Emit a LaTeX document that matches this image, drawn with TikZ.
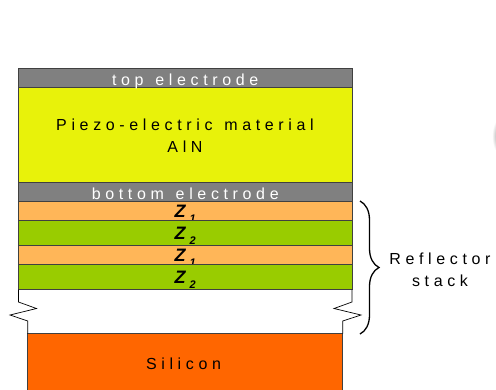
\documentclass[tikz,border=0pt]{standalone}
\usepackage{fontspec}
\setmainfont{Liberation Sans}
\newfontfamily\spaced[LetterSpace=29,WordSpace=1.3]{Liberation Sans}
\usetikzlibrary{positioning,decorations.pathreplacing}

\definecolor{electrodegray}{RGB}{128,128,128}
\definecolor{piezoyellow}{RGB}{232,242,10}
\definecolor{zonecolor}{RGB}{255,182,88}
\definecolor{ztwocolor}{RGB}{153,204,0}
\definecolor{siliconorange}{RGB}{255,102,0}

\newcommand{\zlabel}[1]{{\bfseries\itshape\fontsize{18}{18}\selectfont Z\hspace{4pt}\raisebox{-4.5pt}{\fontsize{11}{11}\selectfont #1}}}

\tikzset{
    layer/.style={draw=black!75,line width=0.7pt,minimum width=333.5pt,inner sep=0pt,outer sep=0pt,align=center},
    zone/.style={layer,fill=zonecolor,minimum height=19pt,text height=14pt,text depth=0pt},
    ztwo/.style={layer,fill=ztwocolor,minimum height=25.25pt,text height=14pt,text depth=0pt},
    electrode/.style={layer,fill=electrodegray,minimum height=19pt,text=white,text height=15pt,text depth=0pt},
    spacedtext/.style={font=\spaced\fontsize{16}{22}\selectfont}
}

\begin{document}
\begin{tikzpicture}[x=1pt,y=-1pt]

\useasboundingbox (0,0) rectangle (496,389);

% Capas superiores: el piezo primero para que el texto de arriba quede encima
\node[layer,fill=piezoyellow,minimum height=95pt,anchor=north west] (piezo) at (18.5,87) {};
\node[spacedtext,align=center] (piezolabel) at (185,136) {Piezo-electric material\\AlN};

\node[electrode,spacedtext,above=0pt of piezo] (top) {top electrode};

\node[electrode,spacedtext,below=0pt of piezo] (bottom) {bottom electrode};

% Pila del reflector
\node[zone,below=0pt of bottom] (zA) {\zlabel{1}};
\node[ztwo,below=0pt of zA] (zB) {\zlabel{2}};
\node[zone,below=0pt of zB] (zC) {\zlabel{1}};
\node[ztwo,below=0pt of zC] (zD) {\zlabel{2}};

% Puntos del corte
\coordinate (LcutA) at (18.5,302);
\coordinate (LcutB) at (36.5,308.5);
\coordinate (LcutC) at (10,315);
\coordinate (LcutD) at (27.7,321);
\coordinate (RcutA) at (352,302);
\coordinate (RcutB) at (334,308.5);
\coordinate (RcutC) at (361,315);
\coordinate (RcutD) at (342.7,321);

% Silicio
\node[draw=black!75,line width=0.7pt,fill=siliconorange,anchor=north west,minimum width=315pt,minimum height=58pt,
    inner sep=0pt,outer sep=0pt] (si) at (27.7,333.5) {};
\node[spacedtext] (silabel) at (183.5,364) {Silicon};

% Bordes del corte
\draw[line width=0.7pt] (zD.south west) -- (LcutA) -- (LcutB) -- (LcutC) -- (LcutD) -- (si.north west);
\draw[line width=0.7pt] (zD.south east) -- (RcutA) -- (RcutB) -- (RcutC) -- (RcutD) -- (si.north east);

% Llave
\coordinate (braceTop) at (360,201);
\coordinate (braceBot) at (360,334);
\draw[line width=1.3pt,decorate,decoration={brace,amplitude=19pt,aspect=0.5}]
    (braceTop) -- (braceBot);

\node[spacedtext,align=center] (stack) at (440,270) {Reflector\\stack};

% Resto borroso en el borde derecho
\shade[inner color=black!40,outer color=white] (499,136) ellipse (7pt and 17pt);

\end{tikzpicture}
\end{document}
